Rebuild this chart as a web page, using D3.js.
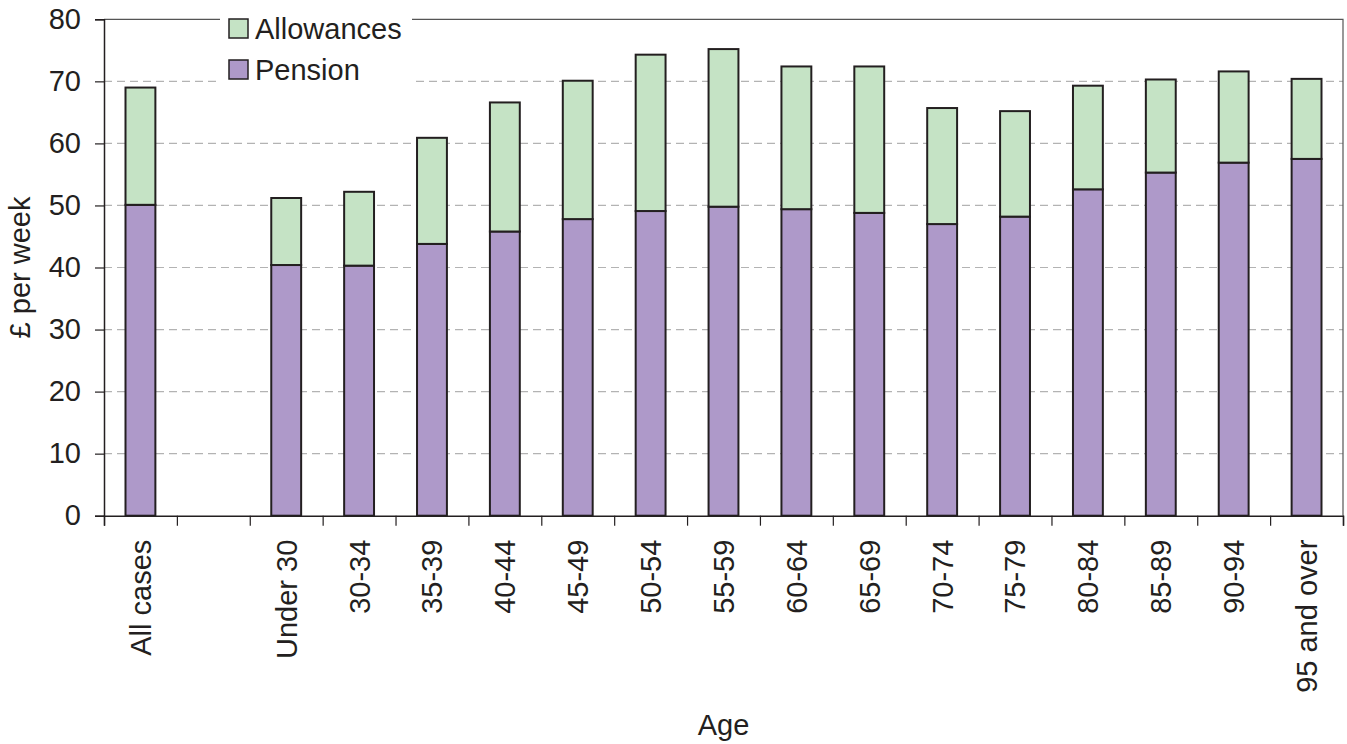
<!DOCTYPE html>
<html>
<head>
<meta charset="utf-8">
<script src="https://cdn.jsdelivr.net/npm/d3@7"></script>
<style>
  html, body { margin: 0; padding: 0; background: #fff; }
  svg { display: block; font-family: "Liberation Sans", Arial, sans-serif; }
</style>
</head>
<body>
<svg id="chart" width="1347" height="744"></svg>
<script>
const categories = ["All cases", "", "Under 30", "30-34", "35-39", "40-44", "45-49", "50-54", "55-59",
  "60-64", "65-69", "70-74", "75-79", "80-84", "85-89", "90-94", "95 and over"];
const pension =    [50.1, null, 40.4, 40.3, 43.8, 45.8, 47.8, 49.1, 49.8, 49.4, 48.8, 47.0, 48.2, 52.6, 55.3, 56.9, 57.5];
const allowances = [18.9, null, 10.8, 11.9, 17.1, 20.8, 22.3, 25.2, 25.4, 23.0, 23.6, 18.7, 17.0, 16.7, 15.0, 14.7, 12.9];
const yTicks = [0, 10, 20, 30, 40, 50, 60, 70, 80];
const seriesNames = ["Pension", "Allowances"];
const seriesColors = ["#ae99c9", "#c5e3c5"];

const W = 1347, H = 744;
const m = { left: 104, right: W - 1343, top: 19.3, bottom: H - 515.7 };
const svg = d3.select("#chart");
const ink = "#231f20";
const fs = 29;

const x = d3.scaleBand().domain(d3.range(categories.length)).range([m.left, W - m.right]).padding(0);
const xb = d3.scaleLinear().domain([0, categories.length]).range([m.left, W - m.right]);
const y = d3.scaleLinear().domain([0, 80]).range([H - m.bottom, m.top]);
const barW = x.bandwidth() * 0.41;

// gridlines
svg.append("g")
  .selectAll("line").data(yTicks.filter(t => t > 0 && t < 80)).join("line")
  .attr("x1", m.left).attr("x2", W - m.right)
  .attr("y1", d => y(d)).attr("y2", d => y(d))
  .attr("stroke", "#b3b3b3").attr("stroke-width", 1.2).attr("stroke-dasharray", "8,5");

// plot frame (top & right)
svg.append("path")
  .attr("d", `M${m.left},${y(80)}H${W - m.right}V${y(0)}`)
  .attr("fill", "none").attr("stroke", "#555").attr("stroke-width", 1.2);

// stacked bars
const rows = categories.map((c, i) => ({ i, Pension: pension[i], Allowances: allowances[i] }))
  .filter(r => r.Pension != null);
const stack = d3.stack().keys(seriesNames)(rows);
svg.append("g").selectAll("g").data(stack).join("g")
  .attr("fill", (d, k) => seriesColors[k])
  .selectAll("rect").data(d => d).join("rect")
  .attr("x", d => x(d.data.i) + (x.bandwidth() - barW) / 2)
  .attr("width", barW)
  .attr("y", d => y(d[1]))
  .attr("height", d => y(d[0]) - y(d[1]))
  .attr("stroke", ink).attr("stroke-width", 2);

// y axis
const yAxis = svg.append("g").attr("transform", `translate(${m.left},0)`)
  .call(d3.axisLeft(y).tickValues(yTicks).tickSize(9).tickPadding(14));
yAxis.select(".domain").attr("stroke", ink).attr("stroke-width", 1.5);
yAxis.selectAll(".tick line").attr("stroke", ink).attr("stroke-width", 1.2);
yAxis.selectAll("text").attr("font-size", fs).attr("fill", ink).attr("font-family", "Liberation Sans, Arial, sans-serif");

// x axis: boundary ticks
const xAxis = svg.append("g").attr("transform", `translate(0,${y(0)})`)
  .call(d3.axisBottom(xb).tickValues(d3.range(categories.length + 1)).tickSize(10).tickFormat(""));
xAxis.select(".domain").attr("stroke", ink).attr("stroke-width", 1.5);
xAxis.selectAll(".tick line").attr("stroke", ink).attr("stroke-width", 1.2);

// x labels (rotated)
const xLab = svg.append("g").attr("transform", `translate(0,${y(0)})`)
  .call(d3.axisBottom(x).tickSize(0).tickFormat(i => categories[i]));
xLab.select(".domain").remove();
xLab.selectAll("text")
  .attr("font-size", fs).attr("fill", ink).attr("font-family", "Liberation Sans, Arial, sans-serif")
  .attr("text-anchor", "end")
  .attr("transform", "translate(0,24) rotate(-90)")
  .attr("x", 0).attr("y", 0).attr("dy", "0.36em");

// axis titles
svg.append("text")
  .attr("transform", `translate(20,${(y(0) + y(80)) / 2}) rotate(-90)`)
  .attr("text-anchor", "middle").attr("dy", "0.36em")
  .attr("font-size", fs).attr("fill", ink).text("£ per week");
svg.append("text")
  .attr("x", (m.left + W - m.right) / 2).attr("y", 735)
  .attr("text-anchor", "middle")
  .attr("font-size", fs).attr("fill", ink).text("Age");

// legend
const leg = svg.append("g");
leg.append("rect").attr("x", 220).attr("y", 4).attr("width", 192).attr("height", 86).attr("fill", "#fff");
const legItems = [
  { name: "Allowances", color: seriesColors[1], y: 19 },
  { name: "Pension", color: seriesColors[0], y: 60 }
];
const li = leg.selectAll("g.li").data(legItems).join("g").attr("class", "li")
  .attr("transform", d => `translate(229,${d.y})`);
li.append("rect").attr("width", 19).attr("height", 19)
  .attr("fill", d => d.color).attr("stroke", ink).attr("stroke-width", 1.5);
li.append("text").attr("x", 26).attr("y", 20)
  .attr("font-size", fs).attr("fill", ink).text(d => d.name);
</script>
</body>
</html>
